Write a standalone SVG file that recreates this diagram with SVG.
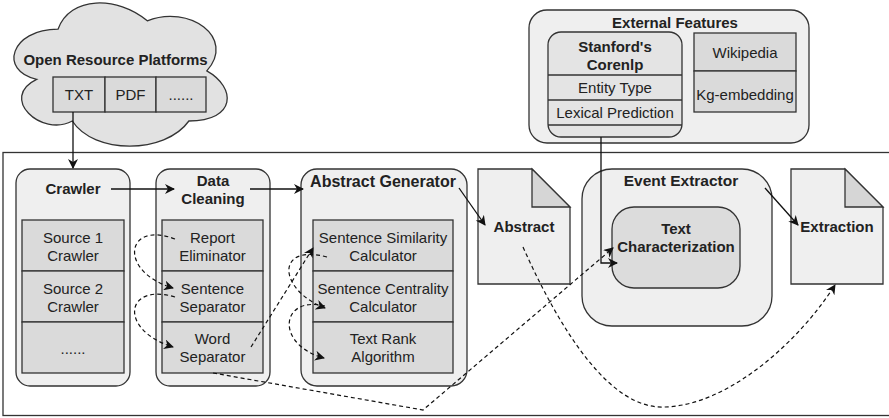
<svg xmlns="http://www.w3.org/2000/svg" width="889" height="418" viewBox="0 0 889 418">
<defs>
<style>
text{font-family:"Liberation Sans",Arial,sans-serif;fill:#222;text-anchor:middle}
.b{font-weight:bold;font-size:15px}
.n{font-size:15px}
.box{fill:#efefef;stroke:#333;stroke-width:1.3}
.cell{fill:#dadada;stroke:#333;stroke-width:1.3}
.ln{fill:none;stroke:#111;stroke-width:1.3}
.dash{fill:none;stroke:#111;stroke-width:1.2;stroke-dasharray:4 3}
</style>
<marker id="ah" viewBox="0 0 10 10" refX="9" refY="5" markerWidth="10" markerHeight="10" markerUnits="userSpaceOnUse" orient="auto">
<path d="M0,0 L10,5 L0,10 L3,5 Z" fill="#111"/>
</marker>
</defs>
<rect width="889" height="418" fill="#fff"/>

<g id="main-frame">
<rect x="3" y="152.5" width="900" height="263" fill="none" stroke="#333" stroke-width="1.3"/>
</g>

<g id="open-resource-platforms">
<path d="M58,29.2 C10.4,29.2 -1.5,70.9 36.6,79.3 C-1.5,97.6 41.3,137.7 72.3,121 C93.7,154.4 165.1,154.4 188.9,121 C236.5,121 236.5,87.6 206.8,70.9 C236.5,37.5 188.9,4.1 147.3,20.8 C117.5,-4.25 69.9,-4.25 58,29.2 Z" fill="#e2e2e2" stroke="#333" stroke-width="1.3"/>
<text class="b" x="115.5" y="65">Open Resource Platforms</text>
<rect class="cell" x="53" y="77" width="52" height="35"/>
<rect class="cell" x="105" y="77" width="51" height="35"/>
<rect class="cell" x="156" y="77" width="50" height="35"/>
<text class="n" x="79" y="100">TXT</text>
<text class="n" x="130.5" y="100">PDF</text>
<text class="n" x="181" y="100">......</text>
</g>

<g id="crawler">
<rect class="box" x="16" y="169" width="114" height="217" rx="14"/>
<text class="b" x="73" y="194">Crawler</text>
<rect class="cell" x="22" y="220" width="102" height="51"/>
<rect class="cell" x="22" y="271" width="102" height="51"/>
<rect class="cell" x="22" y="322" width="102" height="51"/>
<text class="n" x="73" y="243">Source 1</text>
<text class="n" x="73" y="261">Crawler</text>
<text class="n" x="73" y="294">Source 2</text>
<text class="n" x="73" y="312">Crawler</text>
<text class="n" x="73" y="354">......</text>
</g>

<g id="data-cleaning">
<rect class="box" x="156" y="169" width="114" height="217" rx="14"/>
<text class="b" x="213" y="186">Data</text>
<text class="b" x="213" y="204">Cleaning</text>
<rect class="cell" x="162" y="220" width="101" height="51"/>
<rect class="cell" x="162" y="271" width="101" height="51"/>
<rect class="cell" x="162" y="322" width="101" height="51"/>
<text class="n" x="212.5" y="243">Report</text>
<text class="n" x="212.5" y="261">Eliminator</text>
<text class="n" x="212.5" y="294">Sentence</text>
<text class="n" x="212.5" y="312">Separator</text>
<text class="n" x="212.5" y="344">Word</text>
<text class="n" x="212.5" y="362">Separator</text>
</g>

<g id="abstract-generator">
<rect class="box" x="301" y="169" width="166" height="217" rx="16"/>
<text class="b" x="383" y="187" style="font-size:16px">Abstract Generator</text>
<rect class="cell" x="313" y="220" width="140" height="51"/>
<rect class="cell" x="313" y="271" width="140" height="51"/>
<rect class="cell" x="313" y="322" width="140" height="51"/>
<text class="n" x="383" y="243">Sentence Similarity</text>
<text class="n" x="383" y="261">Calculator</text>
<text class="n" x="383" y="294">Sentence Centrality</text>
<text class="n" x="383" y="312">Calculator</text>
<text class="n" x="383" y="344">Text Rank</text>
<text class="n" x="383" y="362">Algorithm</text>
</g>

<g id="abstract">
<path d="M478,169 H532 L570,207 V284 H478 Z" fill="#efefef" stroke="#333" stroke-width="1.3"/>
<path d="M532,169 V207 H570 Z" fill="#d6d6d6" stroke="#333" stroke-width="1.3"/>
<text class="b" x="524" y="232">Abstract</text>
</g>

<g id="event-extractor">
<rect class="box" x="582" y="169" width="190" height="157" rx="30"/>
<text class="b" x="681" y="186" style="font-size:15.5px">Event Extractor</text>
</g>

<g id="text-characterization">
<rect x="612" y="207" width="128" height="81" rx="22" fill="#dcdcdc" stroke="#333" stroke-width="1.3"/>
<text class="b" x="676" y="234">Text</text>
<text class="b" x="676" y="252">Characterization</text>
</g>

<g id="extraction">
<path d="M791,169 H845 L883,207 V284 H791 Z" fill="#efefef" stroke="#333" stroke-width="1.3"/>
<path d="M845,169 V207 H883 Z" fill="#d6d6d6" stroke="#333" stroke-width="1.3"/>
<text class="b" x="837" y="232">Extraction</text>
</g>

<g id="external-features">
<rect class="box" x="529" y="10" width="280" height="133" rx="18"/>
<text class="b" x="675" y="28">External Features</text>
</g>

<g id="stanford-corenlp">
<rect x="548" y="32" width="134" height="105" rx="13" fill="#e4e4e4" stroke="#333" stroke-width="1.3"/>
<line x1="548" y1="75" x2="682" y2="75" stroke="#333" stroke-width="1.3"/>
<line x1="548" y1="100" x2="682" y2="100" stroke="#333" stroke-width="1.3"/>
<line x1="548" y1="125" x2="682" y2="125" stroke="#333" stroke-width="1.3"/>
<text class="b" x="615" y="52">Stanford's</text>
<text class="b" x="615" y="70">Corenlp</text>
<text class="n" x="615" y="93">Entity Type</text>
<text class="n" x="615" y="118">Lexical Prediction</text>
</g>

<g id="wikipedia-kg">
<rect class="cell" x="694" y="33" width="102" height="38"/>
<rect class="cell" x="694" y="71" width="102" height="41"/>
<text class="n" x="745" y="58">Wikipedia</text>
<text class="n" x="745" y="100">Kg-embedding</text>
</g>

<g id="connectors">
<path class="ln" d="M73,112 V168" marker-end="url(#ah)"/>
<path class="ln" d="M111,189 H174" marker-end="url(#ah)"/>
<path class="ln" d="M250,189 H303" marker-end="url(#ah)"/>
<path class="ln" d="M459,188 L485,225" marker-end="url(#ah)"/>
<path class="ln" d="M765,188 L798,225" marker-end="url(#ah)"/>
<path class="ln" d="M601,137 V263 H617" marker-end="url(#ah)"/>
<path class="dash" d="M175,239 C125,220 118,272 173,288" marker-end="url(#ah)"/>
<path class="dash" d="M175,297 C125,282 118,330 173,347" marker-end="url(#ah)"/>
<path class="dash" d="M251,347 L313,248" marker-end="url(#ah)"/>
<path class="dash" d="M327,257 C275,243 278,290 325,308" marker-end="url(#ah)"/>
<path class="dash" d="M325,306 C280,295 275,345 324,358" marker-end="url(#ah)"/>
<path class="dash" d="M213,373 L423,410 L613,248" marker-end="url(#ah)"/>
<path class="dash" d="M523,247 C560,330 610,410 665,407 C730,405 800,340 835,285" marker-end="url(#ah)"/>
</g>
</svg>
